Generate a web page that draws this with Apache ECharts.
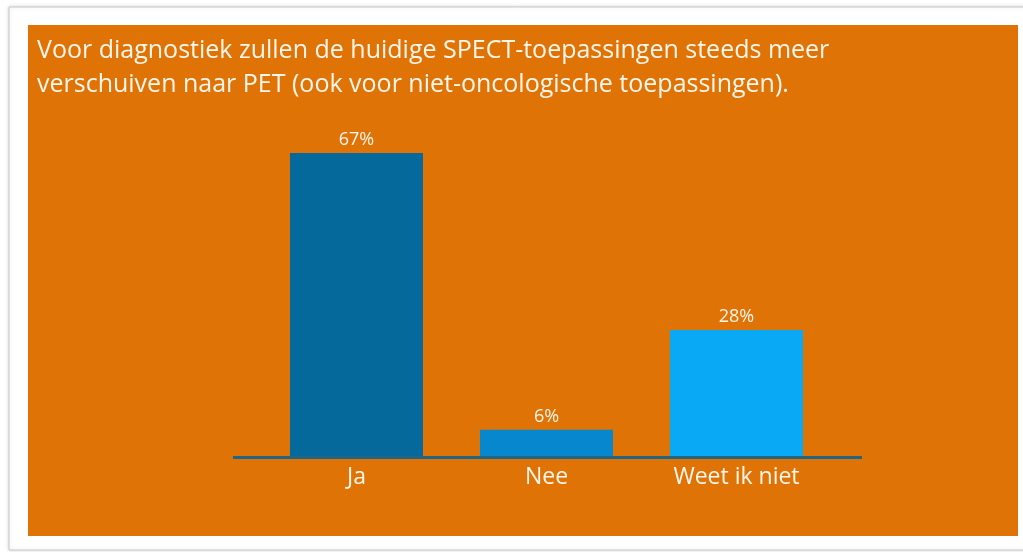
<!DOCTYPE html>
<html><head><meta charset="utf-8">
<script src="https://cdn.jsdelivr.net/npm/echarts@6/dist/echarts.min.js"></script>
<style>html,body{margin:0;padding:0;background:#fff}#c{width:1023px;height:552px}</style>
</head><body><div id="c"></div>
<script>
const titleLines = ["Voor diagnostiek zullen de huidige SPECT-toepassingen steeds meer", "verschuiven naar PET (ook voor niet-oncologische toepassingen)."];
const categories = ["Ja", "Nee", "Weet ik niet"];
const values = [67, 6, 28];
const barColors = ["#05699B", "#0788CE", "#09A9F5"];

const chart = echarts.init(document.getElementById('c'));
const FONT = '"Open Sans", sans-serif';
const frame = [
  {type:'rect', shape:{x:9,y:7,width:1030,height:543}, style:{fill:'#fff', stroke:'#c8c8c8', lineWidth:1, shadowBlur:4, shadowColor:'rgba(0,0,0,0.15)'}, z:-10},
  {type:'rect', shape:{x:28,y:25,width:990,height:511}, style:{fill:'#E07306'}, z:-9}
];
chart.setOption({
  backgroundColor: '#fff',
  animation: false,
  graphic: frame,
  title: {
    text: titleLines.join('\n'),
    left: 32, top: 29,
    textStyle: {color:'#FFF6EC', fontSize: 25, fontWeight: 'normal', fontFamily: FONT, lineHeight: 34}
  },
  grid: {left: 261.5, width: 570, top: 3.3, bottom: 95},
  xAxis: {
    type: 'category', data: categories,
    axisLine: {show: false},
    axisTick: {show: false},
    axisLabel: {color:'#FFF6EC', fontSize: 23, fontFamily: FONT, margin: 9}
  },
  yAxis: {type:'value', min:0, max:100, show:false, splitLine:{show:false}},
  series: [{
    type: 'bar', barWidth: 133,
    data: values.map((v,i)=>({value:v, itemStyle:{color:barColors[i]}})),
    label: {show:true, position:'top', distance: 4, formatter: '{c}%', color:'#FFF6EC', fontSize: 18, fontFamily: FONT}
  }]
});
const y0 = chart.convertToPixel({gridIndex:0}, [0, 0])[1];
chart.setOption({graphic: frame.concat([
  {type:'line', shape:{x1:233, y1:y0+0.5, x2:862, y2:y0+0.5}, style:{stroke:'#1F6687', lineWidth:3}, z:10}
])});
</script></body></html>
